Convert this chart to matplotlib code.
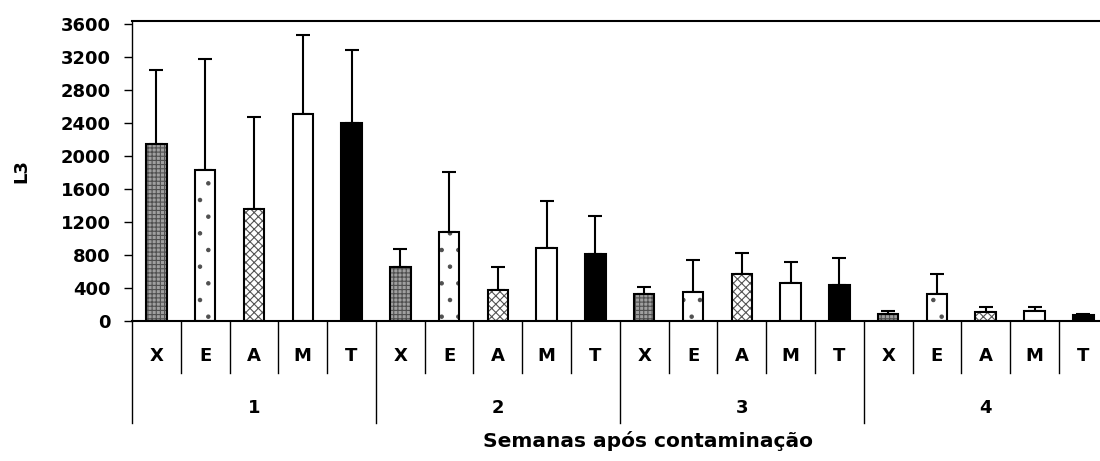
import numpy as np
import matplotlib
matplotlib.use('Agg')
import matplotlib.pyplot as plt

# ── Data ─────────────────────────────────────────────────────────────────────
weeks      = ["1", "2", "3", "4"]
treatments = ["X", "E", "A", "M", "T"]

means = {
    "X": [2150, 660, 325, 88],
    "E": [1830, 1075, 350, 327],
    "A": [1360, 370, 573, 105],
    "M": [2510, 880, 457, 125],
    "T": [2405, 815, 440, 69],
}
upper = {   # top of error bar
    "X": [3040, 876, 412, 125],
    "E": [3172, 1802, 743, 566],
    "A": [2469, 658, 828, 170],
    "M": [3463, 1455, 719, 170],
    "T": [3285, 1273, 764, 89],
}

# fill, hatch, hatch colour per treatment
styles = {
    "X": ("#a0a0a0", "++++", "#505050"),
    "E": ("white",   ".",    "#505050"),
    "A": ("white",   "xxxx", "#555555"),
    "M": ("white",   "",     "black"),
    "T": ("black",   "",     "black"),
}

plt.rcParams['font.family'] = ['DejaVu Sans']
plt.rcParams['font.weight'] = 'bold'
plt.rcParams['hatch.linewidth'] = 0.8

fig = plt.figure(figsize=(11, 4.61), dpi=100)
W, H = 1100, 461
ax = fig.add_axes([132 / W, 140 / H, (1107.7 - 132) / W, 300 / H])

n_t = len(treatments)
bw = 0.42
for ti, t in enumerate(treatments):
    xs = np.arange(len(weeks)) * n_t + ti
    fc, hatch, hc = styles[t]
    ax.bar(xs, means[t], width=bw, color=fc, hatch=hatch, edgecolor=hc,
           linewidth=0, zorder=2)
    ax.bar(xs, means[t], width=bw, fill=False, edgecolor="black",
           linewidth=1.5, zorder=3)
    err = np.array(upper[t]) - np.array(means[t])
    ax.errorbar(xs, means[t], yerr=[np.zeros_like(err), err], fmt="none",
                ecolor="black", elinewidth=1.5, capsize=5, capthick=1.5,
                zorder=1)

n = len(weeks) * n_t
ax.set_xlim(-0.5, n - 0.5)
ax.set_ylim(0, 3636)
ax.set_yticks(np.arange(0, 3601, 400))
ax.tick_params(axis="y", direction="out", length=5.5, width=1, labelsize=13, pad=10)
ax.set_xticks([])
for s in ax.spines.values():
    s.set_linewidth(1.5)
ax.spines["left"].set_linewidth(1)
ax.set_ylabel("L3", fontsize=13, fontweight="bold")
ax.yaxis.set_label_coords((30 - 132) / 975.7, 0.5)

# category labels and separators below axis
tr = ax.get_xaxis_transform()
for i in range(n):
    ax.text(i, -0.117, treatments[i % n_t], transform=tr, ha="center",
            va="center", fontsize=13, fontweight="bold")
    ybot = -0.34 if i % n_t == 0 else -0.173
    ax.plot([i - 0.5, i - 0.5], [0, ybot], transform=tr, color="black",
            linewidth=1, clip_on=False)
for g, w in enumerate(weeks):
    ax.text(g * n_t + (n_t - 1) / 2, -0.29, w, transform=tr, ha="center",
            va="center", fontsize=13, fontweight="bold")

ax.text(0.5 * (458 + 838) / W, (461 - 441) / H, "Semanas após contaminação",
        transform=fig.transFigure, ha="center", va="center",
        fontsize=14.5, fontweight="bold")

fig.savefig("out.png", dpi=100)
